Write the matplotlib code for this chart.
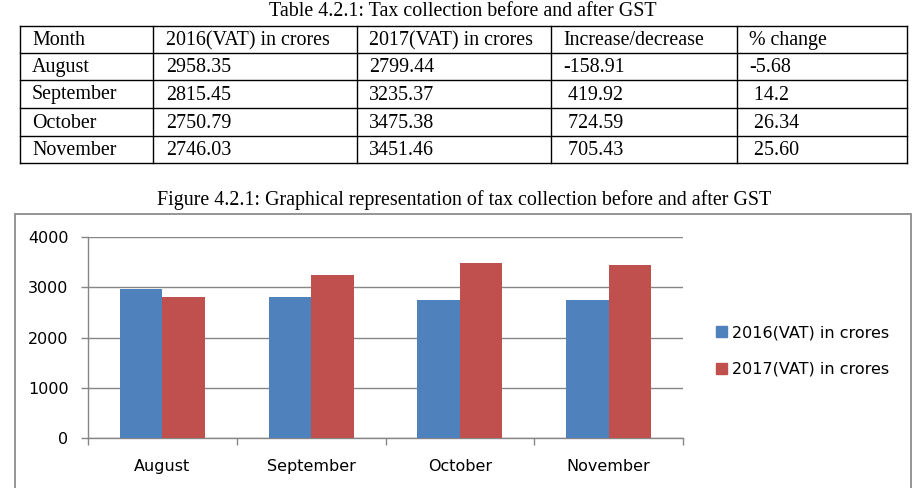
import matplotlib
matplotlib.use("Agg")
import matplotlib.pyplot as plt
from matplotlib.patches import Rectangle, Patch
from matplotlib.lines import Line2D

# data
months = ["August", "September", "October", "November"]
vat_2016 = [2958.35, 2815.45, 2750.79, 2746.03]
vat_2017 = [2799.44, 3235.37, 3475.38, 3451.46]
change = ["-158.91", " 419.92", " 724.59", " 705.43"]
pct_change = ["-5.68", " 14.2", " 26.34", " 25.60"]
headers = ["Month", "2016(VAT) in crores", "2017(VAT) in crores", "Increase/decrease", "% change"]
series_labels = ["2016(VAT) in crores", "2017(VAT) in crores"]

W, H = 914, 488
BLUE = "#4F81BD"
RED = "#C0504D"
GREY = "#868686"
SERIF = "Liberation Serif"
SANS = "DejaVu Sans"
FS_SERIF = 14.4

fig = plt.figure(figsize=(W / 100, H / 100), dpi=100)


def fx(x):
    return x / W


def fy(y):
    return 1 - y / H


# ---- table ----
fig.text(fx(463), fy(11), "Table 4.2.1: Tax collection before and after GST",
         ha="center", va="center", family=SERIF, fontsize=FS_SERIF)

col_edges = [20, 153, 357, 551, 737, 907]
row_edges = [26, 53, 80, 108, 136, 163]
text_x = [32, 166, 369, 563, 749]

for x in col_edges:
    fig.add_artist(Line2D([fx(x), fx(x)], [fy(row_edges[0]), fy(row_edges[-1])],
                          color="black", lw=1.0))
for y in row_edges:
    fig.add_artist(Line2D([fx(col_edges[0]), fx(col_edges[-1])], [fy(y), fy(y)],
                          color="black", lw=1.0))

rows = [headers]
for i, m in enumerate(months):
    rows.append([m, f"{vat_2016[i]:.2f}", f"{vat_2017[i]:.2f}", change[i], pct_change[i]])

for r, row in enumerate(rows):
    yc = (row_edges[r] + row_edges[r + 1]) / 2
    for c, val in enumerate(row):
        fig.text(fx(text_x[c]), fy(yc + 1), val, ha="left", va="center",
                 family=SERIF, fontsize=FS_SERIF)

# ---- chart ----
fig.text(fx(464), fy(200), "Figure 4.2.1: Graphical representation of tax collection before and after GST",
         ha="center", va="center", family=SERIF, fontsize=FS_SERIF)

fig.add_artist(Rectangle((fx(15), fy(500)), fx(911) - fx(15), fy(214) - fy(500),
                         transform=fig.transFigure, fill=False, edgecolor="#8c8c8c", lw=1.3))

ax = fig.add_axes([fx(88), fy(438), fx(683) - fx(88), fy(237) - fy(438)])
x = list(range(len(months)))
bw = 0.285
ax.bar([i - bw / 2 for i in x], vat_2016, width=bw, color=BLUE, label=series_labels[0], zorder=3)
ax.bar([i + bw / 2 for i in x], vat_2017, width=bw, color=RED, label=series_labels[1], zorder=3)

ax.set_xlim(-0.5, len(months) - 0.5)
ax.set_ylim(0, 4000)
ax.set_yticks([0, 1000, 2000, 3000, 4000])
ax.yaxis.grid(True, color=GREY, lw=1.0, zorder=0)
ax.set_axisbelow(True)

ax.set_xticks([i - 0.5 for i in range(len(months) + 1)])
ax.set_xticklabels([])
ax.set_xticks(x, minor=True)
ax.set_xticklabels(months, minor=True)
ax.tick_params(axis="x", which="minor", length=0, pad=15, labelsize=11.5)
ax.tick_params(axis="x", which="major", length=5, color=GREY, width=1)
ax.tick_params(axis="y", length=5, color=GREY, width=1, labelsize=11.5, pad=9)
for lab in ax.get_xticklabels(minor=True) + ax.get_yticklabels():
    lab.set_family(SANS)

for side in ("top", "right"):
    ax.spines[side].set_visible(False)
for side in ("left", "bottom"):
    ax.spines[side].set_color(GREY)
    ax.spines[side].set_linewidth(1.0)

handles = [Patch(color=BLUE), Patch(color=RED)]
fig.legend(handles, series_labels, loc="center left", bbox_to_anchor=(fx(702), fy(351)),
           frameon=False, prop={"family": SANS, "size": 11.5},
           handlelength=0.65, handleheight=0.65, handletextpad=0.35, labelspacing=1.35)

fig.savefig("out.png", dpi=100)
